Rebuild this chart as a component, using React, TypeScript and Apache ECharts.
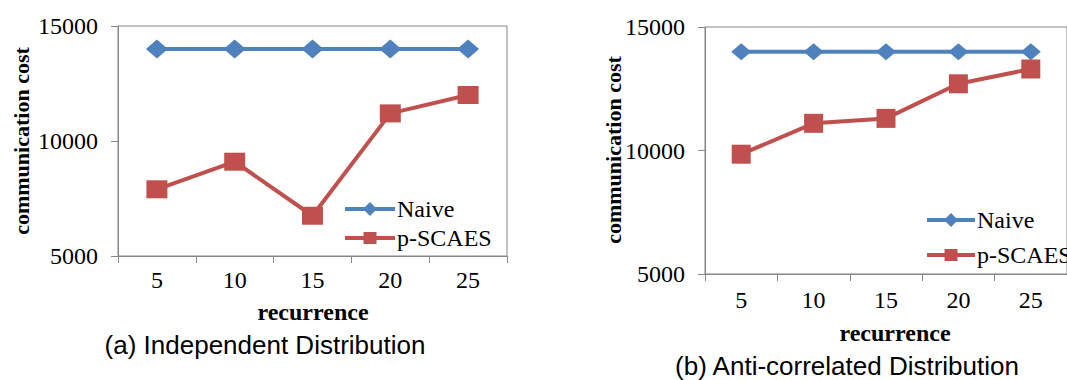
import React, { useEffect, useRef } from "react";
import * as echarts from "echarts";

const categories = ["5", "10", "15", "20", "25"];
const naiveA = [14000, 14000, 14000, 14000, 14000];
const scaesA = [7900, 9100, 6750, 11200, 12000];
const naiveB = [14000, 14000, 14000, 14000, 14000];
const scaesB = [9850, 11100, 11300, 12700, 13300];
const seriesNames = ["Naive", "p-SCAES"];
const yMin = 5000;
const yMax = 15000;
const yStep = 5000;
const xName = "recurrence";
const yName = "communication cost";
const captionA = "(a) Independent Distribution";
const captionB = "(b) Anti-correlated Distribution";

const BLUE = "#4F81BD";
const RED = "#C0504D";
const GRAY = "#868686";
const SERIF = "'Liberation Serif', 'Times New Roman', serif";
const SANS = "'Liberation Sans', Arial, sans-serif";

function legendItems(x0: number, x1: number, ys: number[]) {
  const cx = (x0 + x1) / 2;
  return seriesNames.map((name, i) => {
    const cy = ys[i];
    const color = i === 0 ? BLUE : RED;
    const marker =
      i === 0
        ? {
            type: "polygon",
            shape: {
              points: [
                [cx, cy - 7],
                [cx + 7, cy],
                [cx, cy + 7],
                [cx - 7, cy],
              ],
            },
            style: { fill: color },
          }
        : {
            type: "rect",
            shape: { x: cx - 6.5, y: cy - 6, width: 13, height: 12 },
            style: { fill: color },
          };
    return {
      type: "group",
      children: [
        {
          type: "line",
          shape: { x1: x0, y1: cy, x2: x1, y2: cy },
          style: { stroke: color, lineWidth: 4 },
        },
        marker,
        {
          type: "text",
          x: x1 + 2,
          y: cy,
          style: {
            text: name,
            font: `24px ${SERIF}`,
            fill: "#000",
            align: "left",
            verticalAlign: "middle",
          },
        },
      ],
    };
  });
}

export default function App() {
  const ref = useRef<HTMLDivElement>(null);
  useEffect(() => {
    if (!ref.current) return;
    const chart = echarts.init(ref.current, null, { renderer: "svg" });
    const grids = [
      { left: 118, top: 26, width: 389, height: 230 },
      { left: 705, top: 27, width: 377, height: 247 },
    ];
    const xAxis = grids.map((_, i) => ({
      type: "category",
      gridIndex: i,
      data: categories,
      boundaryGap: true,
      axisLine: { lineStyle: { color: GRAY, width: 1 } },
      axisTick: { show: true, length: 7, lineStyle: { color: GRAY } },
      axisLabel: {
        color: "#000",
        fontFamily: SERIF,
        fontSize: 24,
        lineHeight: 24,
        margin: i === 0 ? 12 : 14,
      },
      splitLine: { show: false },
    }));
    const yAxis = grids.map((_, i) => ({
      type: "value",
      gridIndex: i,
      min: yMin,
      max: yMax,
      interval: yStep,
      axisLine: { show: true, lineStyle: { color: GRAY, width: 1 } },
      axisTick: { show: true, length: 7, lineStyle: { color: GRAY } },
      axisLabel: {
        color: "#000",
        fontFamily: SERIF,
        fontSize: 24,
        margin: 20,
        formatter: (v: number) => String(v),
      },
      splitLine: { show: false },
    }));
    const mk = (
      name: string,
      data: number[],
      idx: number,
      color: string,
      symbol: string,
      size: number[]
    ) => ({
      name,
      type: "line",
      xAxisIndex: idx,
      yAxisIndex: idx,
      data,
      symbol,
      symbolSize: size,
      lineStyle: { color, width: 4 },
      itemStyle: { color },
      z: name === "Naive" ? 2 : 3,
    });
    const label = (
      text: string,
      x: number,
      y: number,
      font: string,
      rotate = false
    ) => ({
      type: "text",
      x,
      y,
      rotation: rotate ? Math.PI / 2 : 0,
      style: {
        text,
        font,
        fill: "#000",
        align: "center",
        verticalAlign: "middle",
      },
    });
    chart.setOption({
      animation: false,
      backgroundColor: "#fff",
      grid: grids.map((g) => ({
        ...g,
        show: true,
        borderColor: GRAY,
        borderWidth: 1,
        backgroundColor: "transparent",
        containLabel: false,
      })),
      xAxis,
      yAxis,
      series: [
        mk(seriesNames[0], naiveA, 0, BLUE, "diamond", [22, 19]),
        mk(seriesNames[1], scaesA, 0, RED, "rect", [21, 18]),
        mk(seriesNames[0], naiveB, 1, BLUE, "diamond", [20, 17]),
        mk(seriesNames[1], scaesB, 1, RED, "rect", [19, 19]),
      ],
      graphic: [
        ...legendItems(345, 395, [209, 238]),
        ...legendItems(927, 975, [220, 255]),
        label(xName, 313, 312, `bold 24px ${SERIF}`),
        label(yName, 21, 141, `bold 22px ${SERIF}`, true),
        label(xName, 895, 333, `bold 24px ${SERIF}`),
        label(yName, 613, 150, `bold 22px ${SERIF}`, true),
        label(captionA, 265, 345, `26px ${SANS}`),
        label(captionB, 847, 366, `26px ${SANS}`),
      ],
    });
    return () => chart.dispose();
  }, []);
  return (
    <div
      ref={ref}
      style={{
        position: "fixed",
        left: 0,
        top: 0,
        width: 1067,
        height: 380,
        background: "#fff",
      }}
    />
  );
}
